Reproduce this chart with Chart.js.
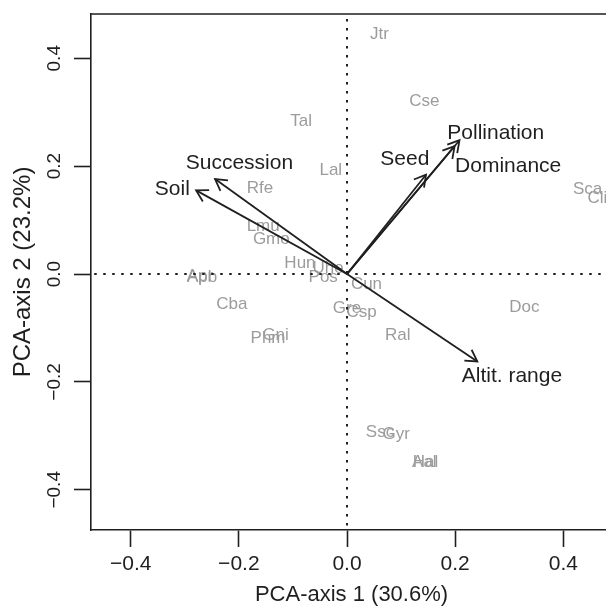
<!DOCTYPE html>
<html>
<head>
<meta charset="utf-8">
<script src="https://cdn.jsdelivr.net/npm/chart.js@4.4.1/dist/chart.umd.min.js"></script>
<style>
  html, body { margin: 0; padding: 0; background: #fff; overflow: hidden; }
  #wrap { width: 612px; height: 606px; }
</style>
</head>
<body>
<div id="wrap"><canvas id="pcaChart" width="612" height="606"></canvas></div>
<script>
// species scores (PCA-axis 1, PCA-axis 2)
const speciesNames = ["Jtr", "Cse", "Tal", "Lal", "Rfe", "Lmu", "Gmo", "Sca", "Cli", "Doc",
  "Apr", "Apb", "Cba", "Hun", "Uhe", "Pos", "Cun", "Gre", "Csp", "Ral",
  "Gni", "Phm", "Ssc", "Gyr", "Hal", "Aal"];
const speciesPc1 = [0.060, 0.143, -0.085, -0.030, -0.161, -0.155, -0.140, 0.445, 0.463, 0.328,
  -0.272, -0.268, -0.213, -0.087, -0.035, -0.044, 0.036, 0.000, 0.027, 0.094,
  -0.132, -0.146, 0.061, 0.091, 0.145, 0.143];
const speciesPc2 = [0.445, 0.320, 0.283, 0.192, 0.158, 0.088, 0.065, 0.157, 0.141, -0.062,
  -0.004, -0.007, -0.057, 0.020, 0.011, -0.007, -0.019, -0.063, -0.071, -0.113,
  -0.113, -0.120, -0.294, -0.298, -0.349, -0.349];

// trait loadings (arrow tips) and where their labels sit
const traitNames = ["Soil", "Succession", "Seed", "Pollination", "Dominance", "Altit. range"];
const traitPc1 = [-0.279, -0.244, 0.146, 0.208, 0.199, 0.241];
const traitPc2 = [0.155, 0.176, 0.184, 0.248, 0.237, -0.162];
const traitLabelPc1 = [-0.323, -0.199, 0.107, 0.275, 0.298, 0.305];
const traitLabelPc2 = [0.158, 0.206, 0.212, 0.261, 0.199, -0.190];

const tickValues = [-0.4, -0.2, 0.0, 0.2, 0.4];

const fontFamily = "'Liberation Sans', Arial, Helvetica, sans-serif";
const ink = "#1f1f1f";

const fmtTick = (v) => (v < 0 ? "\u2212" : "") + Math.abs(v).toFixed(1);

// dotted zero lines
const datasets = [
  {
    data: [{ x: -1, y: 0 }, { x: 1, y: 0 }],
    borderColor: ink, borderWidth: 2, borderDash: [2.5, 6.5],
    pointRadius: 0, fill: false,
  },
  {
    data: [{ x: 0, y: -1 }, { x: 0, y: 1 }],
    borderColor: ink, borderWidth: 2, borderDash: [2.5, 6.5],
    pointRadius: 0, fill: false,
  },
];

// one segment per trait, origin -> loading
traitNames.forEach((name, i) => {
  datasets.push({
    label: name,
    data: [{ x: 0, y: 0 }, { x: traitPc1[i], y: traitPc2[i] }],
    borderColor: ink, borderWidth: 1.8,
    pointRadius: 0, fill: false,
  });
});

const biplotPlugin = {
  id: "biplot",
  beforeDatasetsDraw(chart) {
    const { ctx, scales: { x, y }, chartArea } = chart;
    ctx.save();
    ctx.beginPath();
    ctx.rect(chartArea.left, chartArea.top, chartArea.right - chartArea.left, chartArea.bottom - chartArea.top);
    ctx.clip();
    ctx.font = "17px " + fontFamily;
    ctx.fillStyle = "#9c9c9c";
    ctx.textAlign = "center";
    ctx.textBaseline = "middle";
    speciesNames.forEach((s, i) => {
      ctx.fillText(s, x.getPixelForValue(speciesPc1[i]), y.getPixelForValue(speciesPc2[i]));
    });
    ctx.restore();
  },
  afterDatasetsDraw(chart) {
    const { ctx, scales: { x, y }, chartArea } = chart;
    ctx.save();
    // arrow heads
    ctx.strokeStyle = ink;
    ctx.lineWidth = 1.8;
    const head = 13;
    traitNames.forEach((name, i) => {
      const x0 = x.getPixelForValue(0), y0 = y.getPixelForValue(0);
      const x1 = x.getPixelForValue(traitPc1[i]), y1 = y.getPixelForValue(traitPc2[i]);
      const ang = Math.atan2(y1 - y0, x1 - x0);
      ctx.beginPath();
      ctx.moveTo(x1 - head * Math.cos(ang - Math.PI / 6), y1 - head * Math.sin(ang - Math.PI / 6));
      ctx.lineTo(x1, y1);
      ctx.lineTo(x1 - head * Math.cos(ang + Math.PI / 6), y1 - head * Math.sin(ang + Math.PI / 6));
      ctx.stroke();
    });
    // trait labels
    ctx.font = "21px " + fontFamily;
    ctx.fillStyle = ink;
    ctx.textAlign = "center";
    ctx.textBaseline = "middle";
    traitNames.forEach((name, i) => {
      ctx.fillText(name, x.getPixelForValue(traitLabelPc1[i]), y.getPixelForValue(traitLabelPc2[i]));
    });
    // box top and right
    ctx.lineWidth = 1.6;
    ctx.beginPath();
    ctx.moveTo(chartArea.left, chartArea.top);
    ctx.lineTo(chartArea.right, chartArea.top);
    ctx.lineTo(chartArea.right, chartArea.bottom);
    ctx.stroke();
    ctx.restore();
  },
};

const ctx = document.getElementById("pcaChart").getContext("2d");

const pcaChart = new Chart(ctx, {
  type: "line",
  data: { datasets: datasets },
  plugins: [biplotPlugin],
  options: {
    responsive: false,
    animation: false,
    events: [],
    layout: { padding: { top: 14, left: 0, right: 0, bottom: 0 } },
    plugins: { legend: { display: false }, tooltip: { enabled: false } },
    scales: {
      x: {
        type: "linear",
        min: -0.4734,
        max: 0.49,
        afterBuildTicks: (scale) => { scale.ticks = tickValues.map((v) => ({ value: v })); },
        afterFit: (scale) => { scale.height = 76; },
        border: { display: true, color: ink, width: 1.6 },
        grid: { drawOnChartArea: false, drawTicks: true, tickLength: 17, tickColor: ink, tickWidth: 1.6 },
        ticks: {
          color: ink, padding: 5, maxRotation: 0,
          font: { family: fontFamily, size: 21 },
          callback: fmtTick,
        },
        title: {
          display: true, text: "PCA-axis 1 (30.6%)", color: ink,
          font: { family: fontFamily, size: 22, lineHeight: 1 }, padding: 0,
        },
      },
      y: {
        type: "linear",
        min: -0.4745,
        max: 0.482,
        afterBuildTicks: (scale) => { scale.ticks = tickValues.map((v) => ({ value: v })); },
        afterFit: (scale) => { scale.width = 91; },
        border: { display: true, color: ink, width: 1.6 },
        grid: { drawOnChartArea: false, drawTicks: true, tickLength: 17, tickColor: ink, tickWidth: 1.6 },
        ticks: {
          color: ink, padding: 0, minRotation: 90, maxRotation: 90, crossAlign: "center",
          font: { family: fontFamily, size: 19 },
          callback: fmtTick,
        },
        title: {
          display: true, text: "PCA-axis 2 (23.2%)", color: ink,
          font: { family: fontFamily, size: 24, lineHeight: 1 }, padding: { top: 11, bottom: 0 },
        },
      },
    },
  },
});
</script>
</body>
</html>
